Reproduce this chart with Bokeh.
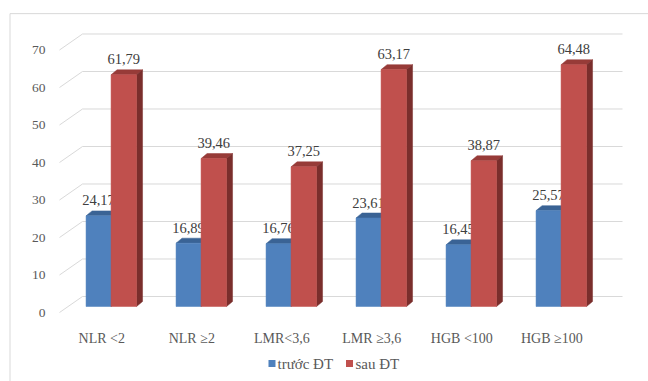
from bokeh.plotting import figure
from bokeh.models import Range1d
from bokeh.core.properties import value
from bokeh.embed import file_html
from bokeh.resources import INLINE

# ---- data ----
categories = ["NLR <2", "NLR ≥2", "LMR<3,6", "LMR ≥3,6", "HGB <100", "HGB ≥100"]
truoc = [24.17, 16.89, 16.76, 23.61, 16.45, 25.57]
sau = [61.79, 39.46, 37.25, 63.17, 38.87, 64.48]
series_names = ["trước ĐT", "sau ĐT"]
y_ticks = [0, 10, 20, 30, 40, 50, 60, 70]

def fmt(v):
    return f"{v:.2f}".replace(".", ",")

# ---- style / geometry (data units) ----
FONT = value("Liberation Serif")
BLUE, BLUE_TOP = "#4f81bd", "#3a6395"
RED, RED_TOP, RED_SIDE = "#c0504d", "#973b38", "#7a2e2c"
GRID = "#d9d9d9"
XB = (0.295, 0.573)
XR = (0.573, 0.856)
BASE = 1.6
DDX, DDY = 0.0667, 1.33
GDX, GDY = 0.2556, 4.27
N = len(categories)

p = figure(width=648, height=381, output_backend="svg", toolbar_location=None,
           x_range=Range1d(-59 / 90, (648 - 59) / 90), y_range=Range1d(-18.4, 83.2),
           min_border=0, x_axis_location=None, y_axis_location=None)
p.outline_line_color = None
p.xgrid.visible = False
p.ygrid.visible = False

# chart-area border
p.segment(x0=[-0.55, -0.55], y0=[79.7, 79.7], x1=[-0.55, 7.5], y1=[-30, 79.7],
          line_color=GRID, line_width=1)

# 3D gridlines: front diagonal + back-wall line
gx0, gy0, gx1, gy1 = [], [], [], []
for v in y_ticks:
    gx0 += [0, GDX]
    gy0 += [v, v + GDY]
    gx1 += [GDX, GDX + N]
    gy1 += [v + GDY, v + GDY]
p.segment(x0=gx0, y0=gy0, x1=gx1, y1=gy1, line_color=GRID, line_width=1)

# y tick labels
p.text(x=[-0.1556] * len(y_ticks), y=y_ticks, text=[str(t) for t in y_ticks],
       text_font=FONT, text_font_size="13.5px", text_color="#595959",
       text_align="right", text_baseline="middle")

def draw_series(vals, xo, front, top, side):
    lefts = [i + xo[0] for i in range(N)]
    rights = [i + xo[1] for i in range(N)]
    tops = [v + BASE for v in vals]
    # top faces
    tx = [[l, r, r + DDX, l + DDX] for l, r in zip(lefts, rights)]
    ty = [[t, t, t + DDY, t + DDY] for t in tops]
    p.patches(xs=tx, ys=ty, fill_color=top, line_color=top, line_width=0.5)
    sx = [[r, r + DDX, r + DDX, r] for r in rights]
    sy = [[BASE, BASE + DDY, t + DDY, t] for t in tops]
    p.patches(xs=sx, ys=sy, fill_color=side, line_color=side, line_width=0.5)
    p.quad(left=lefts, right=rights, bottom=BASE, top=tops,
           fill_color=front, line_color=front, line_width=0.5)
    p.text(x=[(l + r) / 2 for l, r in zip(lefts, rights)], y=[t + 4.1 for t in tops],
           text=[fmt(v) for v in vals], text_font=FONT, text_font_size="14.5px",
           text_color="#404040", text_align="center", text_baseline="middle")

draw_series(truoc, XB, BLUE, BLUE_TOP, BLUE_TOP)
draw_series(sau, XR, RED, RED_TOP, RED_SIDE)

# category labels
p.text(x=[i + 0.47 for i in range(N)], y=[-6.8] * N, text=categories,
       text_font=FONT, text_font_size="14px", text_color="#595959",
       text_align="center", text_baseline="middle")

# legend
p.scatter(x=[2.361, 3.222], y=[-13.6, -13.6], marker="square", size=7,
          fill_color=[BLUE, RED], line_color=None)
p.text(x=[2.422, 3.289], y=[-13.6, -13.6], text=series_names,
       text_font=FONT, text_font_size="15px", text_color="#595959",
       text_align="left", text_baseline="middle")

open("out.html", "w").write(file_html(p, INLINE))
